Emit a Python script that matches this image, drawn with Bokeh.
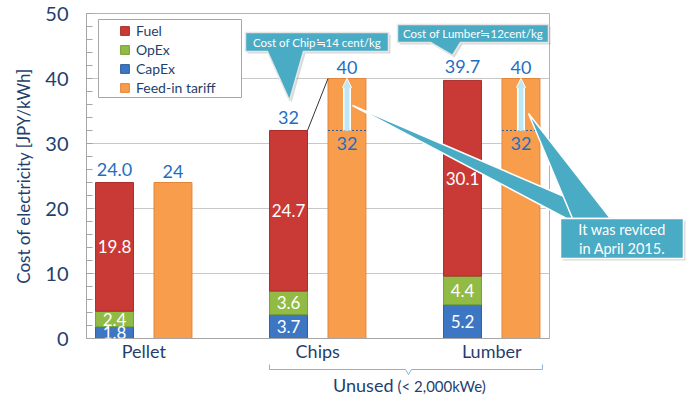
from bokeh.plotting import figure
from bokeh.models import (ColumnDataSource, Range1d, FixedTicker, SingleIntervalTicker,
                          LabelSet, Legend, LegendItem, Arrow, NormalHead)
from bokeh.core.properties import value
from bokeh.embed import file_html
from bokeh.resources import INLINE

# ---------------- data ----------------
groups = ["Pellet", "Chips", "Lumber"]
capex = [1.8, 3.7, 5.2]
opex = [2.4, 3.6, 4.4]
fuel = [19.8, 24.7, 30.1]
feed_in = [24, 40, 40]
feed_in_old = [None, 32, 32]
total_text = ["24.0", "32", "39.7"]
feed_in_text = ["24", "40", "40"]

# ---------------- style ----------------
FONT = "Lato"
NAVY = "#1F3F6E"
BLUE_TXT = "#1F6EC0"
C_FUEL = "#C93A36"
C_OPEX = "#91BB45"
C_CAPEX = "#3D76C3"
C_FIT = "#F89D4C"
TEAL = "#4AABC5"

OFF = 0.168
BW = 0.218

gx = list(range(len(groups)))
xs_stack = [g - OFF for g in gx]
xs_fit = [g + OFF for g in gx]

b_opex = capex
b_fuel = [c + o for c, o in zip(capex, opex)]
tops = [c + o + f for c, o, f in zip(capex, opex, fuel)]

p = figure(width=687, height=398, output_backend="svg", toolbar_location=None,
           x_range=Range1d(-0.329, 2.332), y_range=Range1d(0, 50),
           min_border_left=86, min_border_right=138, min_border_top=13, min_border_bottom=60)
p.background_fill_color = "white"
p.border_fill_color = "white"
p.outline_line_color = "#B3B3B3"

# axes
p.yaxis.ticker = SingleIntervalTicker(interval=10, num_minor_ticks=5)
p.yaxis.axis_label = "Cost of electricity [JPY/kWh]"
p.yaxis.axis_label_text_font = FONT
p.yaxis.axis_label_text_font_style = "normal"
p.yaxis.axis_label_text_font_size = "17px"
p.yaxis.axis_label_text_color = NAVY
p.yaxis.axis_label_standoff = 8
p.yaxis.major_label_text_font = FONT
p.yaxis.major_label_text_font_size = "20px"
p.yaxis.major_label_text_color = NAVY
p.yaxis.major_label_standoff = 18
p.yaxis.axis_line_color = "#A6A6A6"
p.yaxis.major_tick_line_color = "#A6A6A6"
p.yaxis.minor_tick_line_color = "#A6A6A6"
p.yaxis.major_tick_in = 6
p.yaxis.major_tick_out = 0
p.yaxis.minor_tick_in = 6
p.yaxis.minor_tick_out = 0

p.xaxis.ticker = FixedTicker(ticks=gx)
p.xaxis.major_label_overrides = {g: name for g, name in zip(gx, groups)}
p.xaxis.major_label_text_font = FONT
p.xaxis.major_label_text_font_size = "18px"
p.xaxis.major_label_text_color = NAVY
p.xaxis.major_label_standoff = 1
p.xaxis.axis_line_color = "#A6A6A6"
p.xaxis.major_tick_line_color = None
p.xaxis.minor_tick_line_color = None
p.xaxis.major_tick_out = 0
p.xaxis.major_tick_in = 0

p.xgrid.grid_line_color = None
p.ygrid.grid_line_color = "#C8C8C8"

# helpers: frame pixel -> data units (for callout decorations)
X0, SX, Y0, SY = 143.25, 174.0, 338.0, 6.5
def dx(px):
    return (px - X0) / SX
def dy(py):
    return (Y0 - py) / SY

# legend frame (inside plot area, above grid)
p.patch([dx(98), dx(241), dx(241), dx(98)], [dy(19), dy(19), dy(97), dy(97)],
        fill_color="white", line_color="#A6A6A6", line_width=1)

# ---------------- bars ----------------
src = ColumnDataSource(dict(
    xs=xs_stack, xf=xs_fit, capex=capex, opex=opex, fuel=fuel,
    b_opex=b_opex, b_fuel=b_fuel, tops=tops, fit=feed_in,
    total_text=total_text, fit_text=feed_in_text,
    m_capex=[c / 2 for c in capex],
    m_opex=[b + o / 2 for b, o in zip(b_opex, opex)],
    m_fuel=[b + f / 2 for b, f in zip(b_fuel, fuel)],
    t_capex=[f"{v:.1f}" for v in capex],
    t_opex=[f"{v:.1f}" for v in opex],
    t_fuel=[f"{v:.1f}" for v in fuel],
))

r_capex = p.vbar(x="xs", width=BW, bottom=0, top="capex", source=src,
                 fill_color=C_CAPEX, line_color="#2F5F9E", line_width=1)
r_opex = p.vbar(x="xs", width=BW, bottom="b_opex", top="b_fuel", source=src,
                fill_color=C_OPEX, line_color="#76A032", line_width=1)
r_fuel = p.vbar(x="xs", width=BW, bottom="b_fuel", top="tops", source=src,
                fill_color=C_FUEL, line_color="#A82E2B", line_width=1)
r_fit = p.vbar(x="xf", width=BW, bottom=0, top="fit", source=src,
               fill_color=C_FIT, line_color="#E2863A", line_width=1)

# revised tariff markers (old level)
rev_idx = [i for i, v in enumerate(feed_in_old) if v is not None]
rsrc = ColumnDataSource(dict(
    x0=[xs_fit[i] - BW / 2 for i in rev_idx],
    x1=[xs_fit[i] + BW / 2 for i in rev_idx],
    xc=[xs_fit[i] for i in rev_idx],
    old=[feed_in_old[i] for i in rev_idx],
    new=[feed_in[i] for i in rev_idx],
    txt=[f"{feed_in_old[i]:g}" for i in rev_idx],
))
p.segment(x0="x0", y0="old", x1="x1", y1="old", source=rsrc,
          line_color="#2E5C9A", line_dash="2 2", line_width=1)

# thin connector line from Chips cost top to Chips tariff top
ci = 1
p.segment(x0=[xs_stack[ci] + BW / 2], y0=[tops[ci]], x1=[xs_fit[ci] - BW / 2], y1=[feed_in[ci]],
          line_color="#333333", line_width=1)

# up arrows
for i in rev_idx:
    p.add_layout(Arrow(end=NormalHead(size=9, fill_color="white", line_color="white"),
                       x_start=xs_fit[i], y_start=feed_in_old[i], x_end=xs_fit[i], y_end=feed_in[i],
                       line_width=8, line_color="white"))
    p.add_layout(Arrow(end=NormalHead(size=7, fill_color="#BDE8F3", line_color="#BDE8F3"),
                       x_start=xs_fit[i], y_start=feed_in_old[i], x_end=xs_fit[i], y_end=feed_in[i] - 0.3,
                       line_width=5, line_color="#BDE8F3"))

# ---------------- value labels ----------------
def lset(x, y, text, color, size, y_offset=0, baseline="middle", source=src):
    ls = LabelSet(x=x, y=y, text=text, source=source, text_align="center",
                  text_baseline=baseline, y_offset=y_offset, text_color=color,
                  text_font=value(FONT), text_font_size=value(size))
    p.add_layout(ls)

lset("xs", "tops", "total_text", BLUE_TXT, "18px", y_offset=7, baseline="bottom")
lset("xf", "fit", "fit_text", BLUE_TXT, "18px", y_offset=5, baseline="bottom")
lset("xs", "m_capex", "t_capex", "white", "17px")
lset("xs", "m_opex", "t_opex", "white", "17px")
lset("xs", "m_fuel", "t_fuel", "white", "17px")
lset("xc", "old", "txt", BLUE_TXT, "18px", y_offset=-6, baseline="top", source=rsrc)

# ---------------- legend ----------------
legend = Legend(items=[LegendItem(label="Fuel", renderers=[r_fuel]),
                       LegendItem(label="OpEx", renderers=[r_opex]),
                       LegendItem(label="CapEx", renderers=[r_capex]),
                       LegendItem(label="Feed-in tariff", renderers=[r_fit])],
                location=(119 - 86 - 2, 338 - 99),
                label_text_font=FONT, label_text_font_size="14px", label_text_color=NAVY,
                glyph_width=11, glyph_height=11, label_height=19, spacing=0, padding=2,
                label_standoff=6, margin=0, border_line_alpha=0, background_fill_alpha=0)
p.add_layout(legend)

# ---------------- callouts (overlay level, not clipped) ----------------
def poly(pts, fill, line="#E6E6E6", lw=1.5, alpha=1.0, fill_alpha=None):
    p.patch([dx(a) for a, b in pts], [dy(b) for a, b in pts], level="overlay",
            fill_color=fill, fill_alpha=alpha if fill_alpha is None else fill_alpha,
            line_color=line, line_width=lw, line_alpha=alpha if line else 0)

def shadow(pts):
    poly([(a + 2, b + 2) for a, b in pts], "#808080", line=None, lw=0, alpha=0.3)

def label(px, py, text, size, color="white", align="center", baseline="middle"):
    p.text(x=[dx(px)], y=[dy(py)], text=[text], level="overlay",
           text_font=value(FONT), text_font_size=value(size),
           text_color=color, text_align=align, text_baseline=baseline)

chip = [(245, 32), (388, 32), (388, 51), (303, 51), (289, 100), (267, 51), (245, 51)]
shadow(chip)
poly(chip, TEAL)
lumb = [(397, 24), (548, 24), (548, 42), (460, 42), (452, 55), (430, 42), (397, 42)]
shadow(lumb)
poly(lumb, TEAL)

wedge_a = [(352, 105), (615, 218), (566, 218)]
wedge_b = [(528, 113), (610, 218), (572, 218)]
rev_box = [(560, 218), (683, 218), (683, 258), (560, 258)]
shadow(rev_box)
poly(wedge_a, TEAL, line="white")
poly(wedge_b, TEAL, line="white")
poly(rev_box, TEAL, line="white")

label(316.5, 41.5, "Cost of Chip\u225214 cent/kg", "11.5px")
label(472.5, 33, "Cost of Lumber\u225212cent/kg", "11.5px")
label(621.5, 229, "It was reviced", "14.5px")
label(621.5, 248, "in April 2015.", "14.5px")

# bracket under the unused categories
brace_x = [269, 269, 405, 408, 411, 542, 542]
brace_y = [364, 369, 369, 374, 369, 369, 364]
p.line([dx(a) for a in brace_x], [dy(b) for b in brace_y], level="overlay",
       line_color="#8EB1DA", line_width=1)
label(393, 384, "Unused", "18px", color=NAVY, align="right")
label(397, 385, "(< 2,000kWe)", "15px", color=NAVY, align="left")

open("out.html", "w").write(file_html(p, INLINE))
